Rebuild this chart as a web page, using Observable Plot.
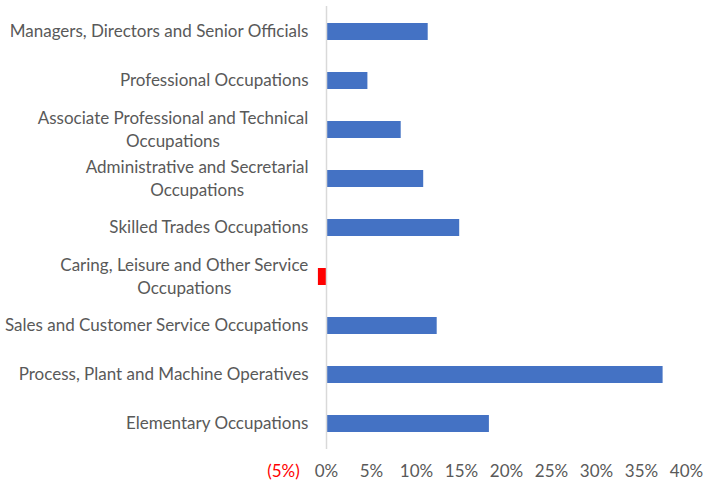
<!DOCTYPE html>
<html>
<head>
<meta charset="utf-8">
<script src="https://cdn.jsdelivr.net/npm/d3@7"></script>
<script src="https://cdn.jsdelivr.net/npm/@observablehq/plot@0.6"></script>
<style>
  html, body { margin: 0; padding: 0; background: #fff; }
  #chart svg { display: block; }
</style>
</head>
<body>
<div id="chart"></div>
<script>
const categories = [
  "Managers, Directors and Senior Officials",
  "Professional Occupations",
  "Associate Professional and Technical Occupations",
  "Administrative and Secretarial Occupations",
  "Skilled Trades Occupations",
  "Caring, Leisure and Other Service Occupations",
  "Sales and Customer Service Occupations",
  "Process, Plant and Machine Operatives",
  "Elementary Occupations"
];
const labelLines = [
  "Managers, Directors and Senior Officials",
  "Professional Occupations",
  "Associate Professional and Technical\nOccupations",
  "Administrative and Secretarial\nOccupations",
  "Skilled Trades Occupations",
  "Caring, Leisure and Other Service\nOccupations",
  "Sales and Customer Service Occupations",
  "Process, Plant and Machine Operatives",
  "Elementary Occupations"
];
const values = [11.3, 4.6, 8.3, 10.8, 14.8, -0.9, 12.3, 37.4, 18.1];
const tickValues = [-5, 0, 5, 10, 15, 20, 25, 30, 35, 40];

const data = categories.map((c, i) => ({category: c, label: labelLines[i], value: values[i]}));
const fmt = d => d < 0 ? `(${-d}%)` : `${d}%`;
const font = "Lato, 'Open Sans', sans-serif";
const labelSize = 17;

// measure text block widths so multi-line labels are centred blocks, right-aligned
const ctx = document.createElement("canvas").getContext("2d");
ctx.font = `${labelSize}px Lato, 'Open Sans', sans-serif`;
const blockWidth = s => Math.max(...s.split("\n").map(l => ctx.measureText(l).width));
const labelRight = 27; // offset from frame left edge

const labelMarks = data.map(d => Plot.text([d], {
  y: "category", text: "label", frameAnchor: "left",
  dx: labelRight - blockWidth(d.label) / 2, dy: -2,
  textAnchor: "middle", lineAnchor: "middle", lineHeight: 1.35,
  fill: "#595959", fontSize: labelSize
}));

const chart = Plot.plot({
  width: 704,
  height: 481,
  marginLeft: 281,
  marginRight: 18,
  marginTop: 6,
  marginBottom: 32,
  style: {fontFamily: font, fontSize: "16px", background: "#fff"},
  x: {domain: [-5, 40], axis: null},
  y: {domain: categories, axis: null, paddingInner: 0.645, paddingOuter: 0.316},
  marks: [
    Plot.barX(data, {
      x: "value", y: "category",
      fill: d => d.value < 0 ? "#FF0000" : "#4472C4"
    }),
    Plot.ruleX([0], {stroke: "#d9d9d9", strokeWidth: 1.5}),
    ...labelMarks,
    Plot.text(tickValues.filter(d => d >= 0), {
      x: d => d, text: fmt, frameAnchor: "bottom", dy: 22,
      lineAnchor: "middle", fill: "#595959", fontSize: 17
    }),
    Plot.text(tickValues.filter(d => d < 0), {
      x: d => d, text: fmt, frameAnchor: "bottom", dy: 22, dx: 2,
      lineAnchor: "middle", fill: "#FF0000", fontSize: 17
    })
  ]
});
document.getElementById("chart").append(chart);
</script>
</body>
</html>
